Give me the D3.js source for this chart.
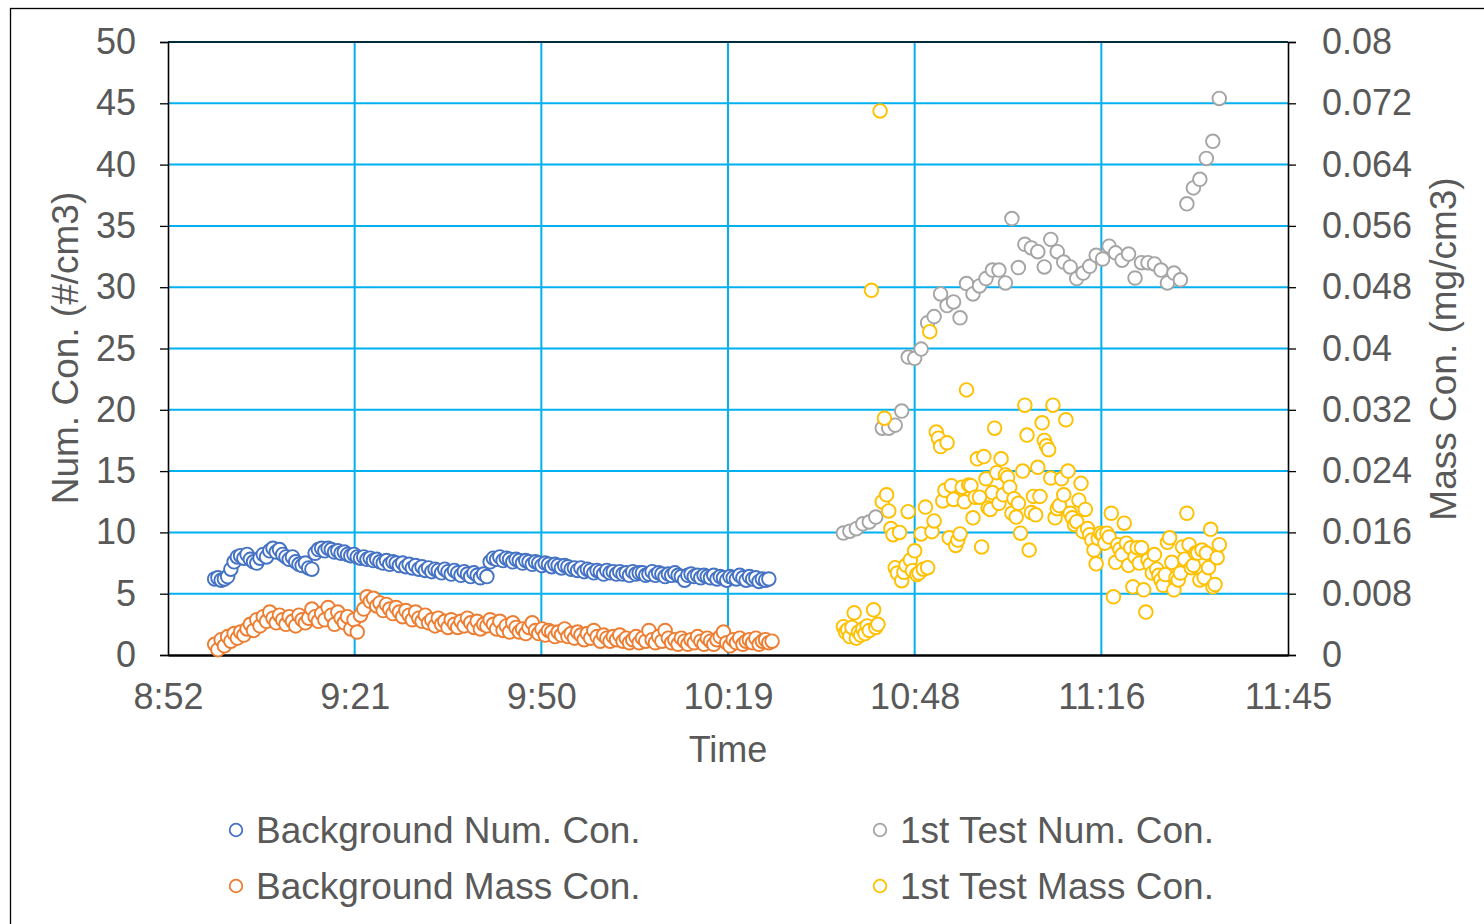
<!DOCTYPE html>
<html><head><meta charset="utf-8">
<script src="https://cdn.jsdelivr.net/npm/d3@7"></script>
<style>
html,body{margin:0;padding:0;background:#fff;}
svg{display:block;font-family:"Liberation Sans",Arial,sans-serif;}
</style></head>
<body>
<svg id="chart" width="1484" height="924"></svg>
<script>
// ---------- DATA ----------
const xTickMinutes = [532.8, 561.6, 590.4, 619.2, 648, 676.8, 705.6];
const xTickLabels = ["8:52", "9:21", "9:50", "10:19", "10:48", "11:16", "11:45"];
const leftTicks = [0, 5, 10, 15, 20, 25, 30, 35, 40, 45, 50];
const rightTicks = [0, 0.008, 0.016, 0.024, 0.032, 0.04, 0.048, 0.056, 0.064, 0.072, 0.08];
const rightTickLabels = ["0", "0.008", "0.016", "0.024", "0.032", "0.04", "0.048", "0.056", "0.064", "0.072", "0.08"];
const seriesNames = ["Background Num. Con.", "Background Mass Con.", "1st Test Num. Con.", "1st Test Mass Con."];

// sampling: background every 30 s from 9:00:00, test number every 60 s from 10:37:00, test mass every 20 s from 10:37:00
const bgStart = "9:00:00", bgStepSec = 30;
const testNumStart = "10:37:00", testNumStepSec = 60;
const testMassStart = "10:37:00", testMassStepSec = 20;

const bgNum = [6.2,6.3,6.1,6.2,6.4,7.0,7.6,8.0,8.1,7.9,8.2,7.8,7.6,7.5,7.9,8.2,8.0,8.5,8.7,8.4,8.6,8.2,8.0,7.8,8.0,
7.6,7.4,7.3,7.5,7.1,7.0,8.3,8.6,8.7,8.5,8.7,8.6,8.4,8.5,8.3,8.4,8.2,8.1,8.2,8.0,7.9,8.0,7.8,7.9,
7.7,7.8,7.6,7.5,7.7,7.4,7.6,7.5,7.3,7.5,7.2,7.4,7.1,7.3,7.0,7.2,6.9,7.1,6.8,7.0,6.9,6.7,7.0,6.8,
6.6,6.9,6.7,6.5,6.8,6.6,6.4,6.7,6.5,6.3,6.6,6.4,7.6,7.9,7.8,8.0,7.7,7.9,7.8,7.6,7.8,7.7,7.5,7.7,
7.6,7.4,7.6,7.5,7.3,7.5,7.4,7.2,7.4,7.3,7.1,7.3,7.2,7.0,7.1,6.9,7.1,6.8,7.0,6.9,6.7,6.9,6.8,6.6,6.9,6.7,6.8,6.6,
6.8,6.6,6.7,6.5,6.8,6.6,6.7,6.7,6.5,6.6,6.8,6.5,6.7,6.6,6.4,6.6,6.5,6.7,6.5,6.4,6.1,6.5,6.6,6.4,6.5,6.3,6.5,
6.4,6.3,6.5,6.2,6.4,6.3,6.1,6.4,6.3,6.2,6.5,6.3,6.1,6.4,6.2,6.3,6.0,6.2,6.1,6.2];

const bgMass = [0.0014,0.0007,0.0020,0.0012,0.0024,0.0018,0.0028,0.0022,0.0030,0.0026,0.0034,
0.0040,0.0032,0.0046,0.0038,0.0050,0.0044,0.0056,0.0048,0.0042,0.0052,0.0046,0.0040,
0.0050,0.0044,0.0038,0.0052,0.0046,0.0042,0.0048,0.0060,0.0050,0.0044,0.0054,0.0046,
0.0062,0.0052,0.0040,0.0056,0.0048,0.0042,0.0050,0.0034,0.0046,0.0030,0.0052,0.0060,0.0076,0.0070,
0.0074,0.0064,0.0068,0.0058,0.0066,0.0060,0.0054,0.0062,0.0056,0.0050,0.0058,0.0052,0.0046,0.0056,0.0048,0.0044,
0.0052,0.0042,0.0046,0.0038,0.0048,0.0040,0.0044,0.0036,
0.0046,0.0040,0.0036,0.0044,0.0038,0.0048,0.0042,0.0036,0.0044,0.0034,0.0040,0.0038,
0.0046,0.0040,0.0034,0.0044,0.0032,0.0038,0.0030,0.0042,0.0036,0.0030,0.0034,0.0028,
0.0036,0.0042,0.0032,0.0028,0.0034,0.0026,0.0032,0.0030,0.0024,0.0030,0.0026,0.0034,0.0024,0.0028,
0.0022,0.0030,0.0026,0.0020,0.0028,0.0022,0.0032,0.0024,0.0018,0.0026,0.0022,0.0018,0.0024,0.0020,
0.0026,0.0018,0.0022,0.0016,0.0020,0.0024,0.0016,0.0022,0.0018,0.0032,0.0020,0.0016,0.0024,0.0018,
0.0032,0.0022,0.0016,0.0020,0.0014,0.0022,0.0018,0.0014,0.0020,0.0016,0.0024,0.0018,0.0014,0.0022,
0.0018,0.0014,0.0020,0.0024,0.0030,0.0016,0.0012,0.0020,0.0016,0.0022,0.0014,0.0018,0.0020,0.0016,0.0022,0.0014,0.0018,0.0020,0.0016,0.0018];

const testNum = [9.95,10.1,10.3,10.7,10.85,11.25,18.5,18.5,18.75,19.9,24.3,24.2,24.95,27.1,27.6,29.45,28.5,28.8,27.5,30.3,
29.45,30.1,30.7,31.4,31.4,30.35,35.6,31.6,33.5,33.2,32.9,31.65,33.9,32.9,32.05,31.65,30.7,31.15,31.7,32.6,
32.3,33.35,32.8,32.2,32.7,30.75,32.0,32.0,31.9,31.4,30.35,31.15,30.6,36.8,38.1,38.8,40.5,41.9,45.4];

const testMass = [0.0037,0.0030,0.0033,0.0024,0.0036,0.0055,0.0022,0.0030,0.0026,0.0034,0.0028,0.0038,0.0032,0.0476,0.0059,0.0036,0.0040,
0.0710,0.0200,0.0309,0.0209,0.0188,0.0165,0.0157,0.0114,0.0107,0.0160,0.0097,0.0108,0.0117,0.0187,0.0124,0.0110,0.0136,0.0105,0.0107,
0.0158,0.0112,0.0193,0.0114,0.0422,0.0161,0.0175,0.0291,0.0283,0.0272,0.0201,0.0215,0.0277,0.0153,0.0221,0.0203,0.0143,0.0150,0.0158,
0.0219,0.0200,0.0346,0.0222,0.0221,0.0179,0.0206,0.0256,0.0206,0.0141,0.0259,0.0230,0.0192,0.0190,0.0212,0.0296,0.0238,0.0198,0.0256,
0.0209,0.0235,0.0232,0.0219,0.0185,0.0204,0.0180,0.0198,0.0159,0.0240,0.0326,0.0287,0.0137,0.0186,0.0207,0.0183,0.0245,0.0207,0.0303,
0.0280,0.0273,0.0268,0.0231,0.0326,0.0179,0.0191,0.0195,0.0230,0.0209,0.0307,0.0240,0.0185,0.0179,0.0170,0.0174,0.0202,0.0224,0.0161,
0.0190,0.0165,0.0157,0.0150,0.0137,0.0119,0.0152,0.0159,0.0157,0.0146,0.0159,0.0154,0.0185,0.0076,0.0121,0.0144,0.0138,0.0131,0.0172,
0.0146,0.0117,0.0140,0.0089,0.0128,0.0140,0.0120,0.0140,0.0085,0.0056,0.0124,0.0118,0.0107,0.0131,0.0112,0.0104,0.0098,0.0091,0.0105,
0.0147,0.0153,0.0121,0.0085,0.0101,0.0098,0.0107,0.0141,0.0125,0.0185,0.0144,0.0114,0.0117,0.0133,0.0133,0.0098,0.0137,0.0101,0.0133,
0.0114,0.0164,0.0089,0.0092,0.0127,0.0144];

// ---------- CHART ----------
const colors = ["#4472C4", "#ED7D31", "#A5A5A5", "#FFC000"];
const textColor = "#595959";
const gridColor = "#00B0F0";

const toMin = s => { const p = s.split(":").map(Number); return p[0]*60 + p[1] + (p[2]||0)/60; };
const series = (vals, start, stepSec) => vals.map((v,i) => ({t: toMin(start) + i*stepSec/60, v}));

const svg = d3.select("#chart");
const L = 168, R = 1288, T = 42, B = 655;
const x = d3.scaleLinear().domain([xTickMinutes[0], xTickMinutes[xTickMinutes.length-1]]).range([L, R]);
const yL = d3.scaleLinear().domain([0, 50]).range([B, T]);
const yR = d3.scaleLinear().domain([0, 0.08]).range([B, T]);

// outer border
svg.append("rect").attr("x", 10.5).attr("y", 8.5).attr("width", 1490).attr("height", 940)
  .attr("fill", "none").attr("stroke", "#000").attr("stroke-width", 1.3);

// gridlines
svg.append("g").selectAll("line").data(leftTicks.slice(1)).join("line")
  .attr("x1", L).attr("x2", R).attr("y1", d => yL(d)).attr("y2", d => yL(d))
  .attr("stroke", gridColor).attr("stroke-width", 2);
svg.append("g").selectAll("line").data(xTickMinutes.slice(1, -1)).join("line")
  .attr("x1", d => x(d)).attr("x2", d => x(d)).attr("y1", T).attr("y2", B)
  .attr("stroke", gridColor).attr("stroke-width", 2);

// top frame line
svg.append("line").attr("x1", L).attr("x2", R).attr("y1", T).attr("y2", T).attr("stroke", "#000").attr("stroke-width", 1.5);

// axes
const axL = svg.append("g").attr("transform", `translate(${L},0)`)
  .call(d3.axisLeft(yL).tickValues(leftTicks).tickSize(8).tickPadding(24).tickFormat(d3.format("d")));
const axR = svg.append("g").attr("transform", `translate(${R},0)`)
  .call(d3.axisRight(yR).tickValues(rightTicks).tickSize(8).tickPadding(26).tickFormat((d,i) => rightTickLabels[i]));
const axB = svg.append("g").attr("transform", `translate(0,${B})`)
  .call(d3.axisBottom(x).tickValues(xTickMinutes).tickSize(0).tickPadding(28).tickFormat((d,i) => xTickLabels[i]));
[axL, axR, axB].forEach(a => {
  a.select(".domain").attr("stroke", "#000").attr("stroke-width", 1.6);
  a.selectAll(".tick line").attr("stroke", "#000").attr("stroke-width", 1.3);
  a.selectAll("text").attr("fill", textColor).attr("font-size", 36).attr("font-family", "Liberation Sans, Arial, sans-serif");
});
axB.select(".domain").attr("stroke-width", 2.5);

// axis titles
svg.append("text").attr("transform", "translate(78,348) rotate(-90)").attr("text-anchor", "middle")
  .attr("fill", textColor).attr("font-size", 37).text("Num. Con. (#/cm3)");
svg.append("text").attr("transform", "translate(1456,349) rotate(-90)").attr("text-anchor", "middle")
  .attr("fill", textColor).attr("font-size", 37).text("Mass Con. (mg/cm3)");
svg.append("text").attr("x", 728).attr("y", 762).attr("text-anchor", "middle")
  .attr("fill", textColor).attr("font-size", 36).text("Time");

// series
const plotData = [
  {d: series(bgNum, bgStart, bgStepSec), y: yL, c: colors[0]},
  {d: series(bgMass, bgStart, bgStepSec), y: yR, c: colors[1]},
  {d: series(testNum, testNumStart, testNumStepSec), y: yL, c: colors[2]},
  {d: series(testMass, testMassStart, testMassStepSec), y: yR, c: colors[3]}
];
plotData.forEach(s => {
  svg.append("g").selectAll("circle").data(s.d).join("circle")
    .attr("cx", d => x(d.t)).attr("cy", d => s.y(d.v)).attr("r", 6.8)
    .attr("fill", "#fff").attr("stroke", s.c).attr("stroke-width", 1.9);
});

// legend
const legPos = [[236, 830], [236, 886], [880, 830], [880, 886]];
const leg = svg.append("g");
seriesNames.forEach((n, i) => {
  const [lx, ly] = legPos[i];
  leg.append("circle").attr("cx", lx).attr("cy", ly).attr("r", 6.3).attr("fill", "#fff")
    .attr("stroke", colors[i]).attr("stroke-width", 1.8);
  leg.append("text").attr("x", lx + 20).attr("y", ly + 13).attr("fill", textColor)
    .attr("font-size", 37).text(n);
});
</script>
</body></html>
